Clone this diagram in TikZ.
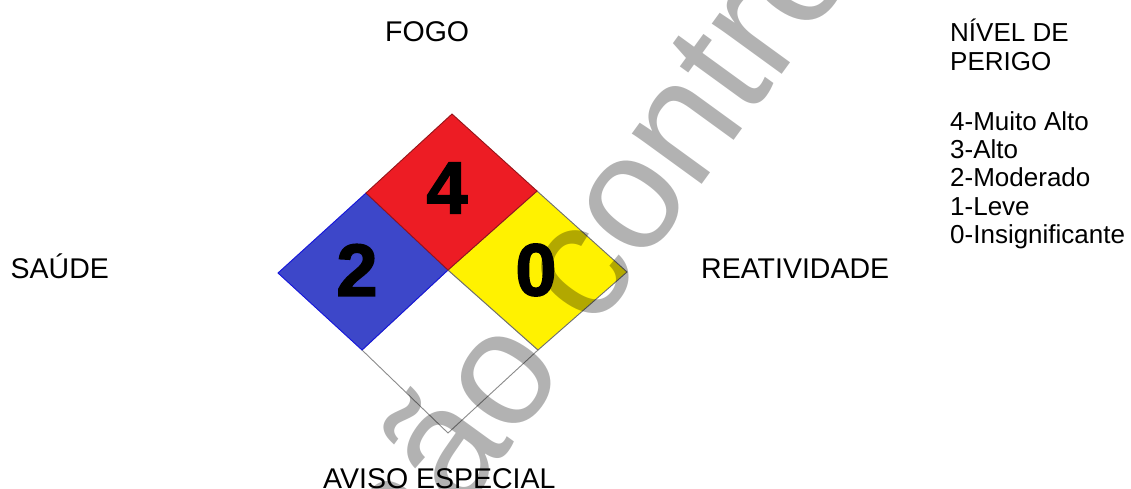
\documentclass[tikz,border=0pt]{standalone}
\usepackage{fontspec}
\setmainfont{Liberation Sans}
\newfontfamily\numfont[FakeBold=2]{Liberation Sans Bold}
\definecolor{hzred}{RGB}{237,28,36}
\definecolor{hzblue}{RGB}{61,71,201}
\definecolor{hzyellow}{RGB}{255,242,0}
\definecolor{redline}{RGB}{150,20,25}
\definecolor{blueline}{RGB}{20,20,220}
\definecolor{greyline}{RGB}{110,110,110}
\begin{document}
\begin{tikzpicture}[x=1pt,y=-1pt,
  lbl/.style={font=\fontsize{28.5}{34}\selectfont, inner sep=0, anchor=base west},
  lst/.style={font=\fontsize{26}{28}\selectfont, inner sep=0, anchor=base west},
  num/.style={font=\fontsize{74}{80}\selectfont\numfont, inner sep=0, anchor=center},
  quad/.style={line width=0.9pt, line join=miter},
  wm/.style={font=\fontsize{163}{170}\selectfont, inner sep=0, anchor=base west, rotate=54, text=black, text opacity=0.3}]
\useasboundingbox (0,0) rectangle (1131,488);
\fill[white] (0,0) rectangle (1131,488);
% diamond corner points
\coordinate (T) at (452,114);
\coordinate (L) at (278,273);
\coordinate (R) at (627,272);
\coordinate (B) at (448,433);
\coordinate (C) at (448,270);
\coordinate (TL) at (366,193);
\coordinate (TR) at (537,191);
\coordinate (BL) at (362,350);
\coordinate (BR) at (538,350);
% quadrants
\filldraw[quad, fill=white, draw=greyline!80] (C) -- (BR) -- (B) -- (BL) -- cycle;
\filldraw[quad, fill=hzblue, draw=blueline] (L) -- (TL) -- (C) -- (BL) -- cycle;
\filldraw[quad, fill=hzyellow, draw=greyline] (TR) -- (R) -- (BR) -- (C) -- cycle;
\filldraw[quad, fill=hzred, draw=redline] (T) -- (TR) -- (C) -- (TL) -- cycle;
% numbers
\node[num] (n4) at (447,188) {4};
\node[num] (n2) at (357,270) {2};
\node[num] (n0) at (536,270) {0};
% labels
\node[lbl] (fogo) at (385,41) {FOGO};
\node[lbl] (saude) at (10.5,278.3) {SAÚDE};
\node[lbl] (reat) at (701,278) {REATIVIDADE};
\node[lbl] (aviso) at (323,488.5) {AVISO ESPECIAL};
% hazard level legend
\node[lst] (h1) at (950,41.7) {NÍVEL DE};
\node[lst] (h2) at (950,70) {PERIGO};
\node[lst] (l4) at (950,130) {4-Muito Alto};
\node[lst] (l3) at (950,158.3) {3-Alto};
\node[lst] (l2) at (950,186.7) {2-Moderado};
\node[lst] (l1) at (950,215) {1-Leve};
\node[lst] (l0) at (950,243.3) {0-Insignificante};
% watermark
\begin{scope}
\clip (0,0) rectangle (1131,488);
\node[wm] (wmark) at (407.7,589) {não controlada};
\end{scope}
\end{tikzpicture}
\end{document}
